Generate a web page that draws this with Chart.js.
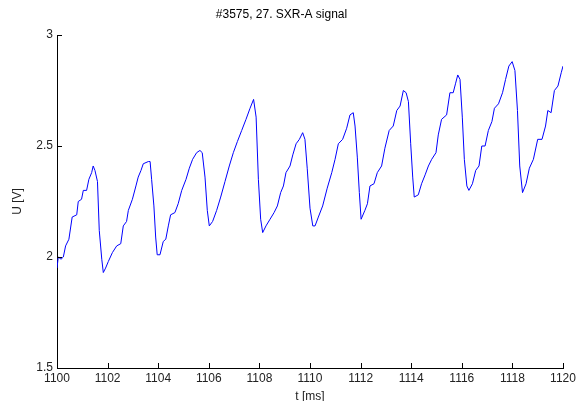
<!DOCTYPE html>
<html>
<head>
<meta charset="utf-8">
<script src="https://cdn.jsdelivr.net/npm/chart.js@4/dist/chart.umd.min.js"></script>
<style>
  html, body { margin: 0; padding: 0; background: #fff; }
  #wrap { width: 579px; height: 401px; }
</style>
</head>
<body>
<div id="wrap"><canvas id="sxrChart" width="579" height="401"></canvas></div>
<script>
// time axis [ms] and signal [V]
const time = [1100.0, 1100.05, 1100.16, 1100.25, 1100.34, 1100.47, 1100.6, 1100.78, 1100.84, 1100.97,
  1101.04, 1101.17, 1101.26, 1101.37, 1101.43, 1101.5, 1101.6, 1101.67, 1101.77, 1101.83,
  1101.92, 1102.03, 1102.19, 1102.36, 1102.52, 1102.62, 1102.75, 1102.82, 1102.98, 1103.12,
  1103.21, 1103.32, 1103.41, 1103.61, 1103.68, 1103.74, 1103.83, 1103.9, 1103.96, 1104.07,
  1104.2, 1104.3, 1104.4, 1104.49, 1104.66, 1104.79, 1104.93, 1105.1, 1105.23, 1105.36,
  1105.52, 1105.65, 1105.74, 1105.85, 1105.94, 1106.02, 1106.15, 1106.31, 1106.47, 1106.64,
  1106.81, 1106.97, 1107.13, 1107.3, 1107.47, 1107.63, 1107.77, 1107.87, 1107.96, 1108.05,
  1108.13, 1108.26, 1108.42, 1108.58, 1108.71, 1108.84, 1108.95, 1109.05, 1109.21, 1109.32,
  1109.45, 1109.58, 1109.71, 1109.8, 1109.89, 1110.0, 1110.11, 1110.2, 1110.33, 1110.5,
  1110.68, 1110.86, 1110.99, 1111.12, 1111.29, 1111.45, 1111.58, 1111.71, 1111.78, 1111.87,
  1111.95, 1112.02, 1112.17, 1112.27, 1112.37, 1112.53, 1112.66, 1112.83, 1112.96, 1113.13,
  1113.29, 1113.43, 1113.56, 1113.69, 1113.8, 1113.89, 1113.98, 1114.06, 1114.12, 1114.28,
  1114.41, 1114.55, 1114.68, 1114.81, 1114.98, 1115.07, 1115.2, 1115.4, 1115.53, 1115.66,
  1115.75, 1115.84, 1115.93, 1116.02, 1116.1, 1116.2, 1116.28, 1116.42, 1116.55, 1116.68,
  1116.79, 1116.92, 1117.05, 1117.19, 1117.29, 1117.45, 1117.61, 1117.73, 1117.86, 1117.99,
  1118.1, 1118.2, 1118.29, 1118.4, 1118.54, 1118.67, 1118.83, 1119.0, 1119.17, 1119.31,
  1119.4, 1119.53, 1119.66, 1119.8, 1119.93, 1120.0];

const signal = [1.95, 2.0, 1.99, 2.0, 2.05, 2.08, 2.18, 2.19, 2.25, 2.26,
  2.30, 2.30, 2.35, 2.38, 2.41, 2.39, 2.34, 2.12, 1.99, 1.93,
  1.95, 1.98, 2.02, 2.05, 2.06, 2.14, 2.16, 2.21, 2.26, 2.32,
  2.36, 2.39, 2.42, 2.43, 2.43, 2.35, 2.23, 2.09, 2.01, 2.01,
  2.07, 2.08, 2.14, 2.19, 2.20, 2.24, 2.30, 2.35, 2.40, 2.44,
  2.47, 2.48, 2.47, 2.36, 2.21, 2.14, 2.16, 2.21, 2.27, 2.34,
  2.41, 2.47, 2.52, 2.57, 2.62, 2.67, 2.71, 2.63, 2.35, 2.17,
  2.11, 2.14, 2.17, 2.20, 2.23, 2.29, 2.32, 2.38, 2.41, 2.46,
  2.51, 2.53, 2.56, 2.53, 2.40, 2.22, 2.14, 2.14, 2.18, 2.23,
  2.31, 2.38, 2.44, 2.51, 2.53, 2.58, 2.64, 2.65, 2.59, 2.45,
  2.29, 2.17, 2.21, 2.24, 2.32, 2.33, 2.38, 2.41, 2.49, 2.57,
  2.59, 2.66, 2.68, 2.75, 2.74, 2.70, 2.51, 2.36, 2.27, 2.28,
  2.33, 2.37, 2.41, 2.44, 2.47, 2.55, 2.62, 2.64, 2.74, 2.74,
  2.78, 2.82, 2.80, 2.63, 2.44, 2.32, 2.30, 2.33, 2.39, 2.41,
  2.50, 2.50, 2.57, 2.61, 2.67, 2.69, 2.74, 2.80, 2.86, 2.88,
  2.84, 2.66, 2.41, 2.29, 2.33, 2.40, 2.44, 2.53, 2.53, 2.59,
  2.66, 2.65, 2.75, 2.77, 2.83, 2.86];

const xTicks = [1100, 1102, 1104, 1106, 1108, 1110, 1112, 1114, 1116, 1118, 1120];
const yTicks = [1.5, 2, 2.5, 3];

const points = time.map((t, i) => ({ x: t, y: signal[i] }));
const font = { family: "Arial, 'Liberation Sans', sans-serif", size: 12 };

// matlab style ticks pointing into the axes
const innerTicks = {
  id: "innerTicks",
  afterDraw(chart) {
    const ctx = chart.ctx;
    const xs = chart.scales.x, ys = chart.scales.y;
    ctx.save();
    ctx.strokeStyle = "#000";
    ctx.lineWidth = 1;
    ctx.beginPath();
    xTicks.forEach((v) => {
      const px = Math.round(xs.getPixelForValue(v)) + 0.5;
      ctx.moveTo(px, ys.bottom);
      ctx.lineTo(px, ys.bottom - 5);
    });
    yTicks.forEach((v) => {
      const py = Math.round(ys.getPixelForValue(v)) + 0.5;
      ctx.moveTo(xs.left, py);
      ctx.lineTo(xs.left + 5, py);
    });
    ctx.stroke();
    ctx.restore();
  }
};

new Chart(document.getElementById("sxrChart"), {
  type: "scatter",
  data: {
    datasets: [{
      data: points,
      showLine: true,
      borderColor: "#0000ff",
      borderWidth: 1,
      pointRadius: 0,
      tension: 0
    }]
  },
  options: {
    responsive: false,
    animation: false,
    layout: { padding: { left: 0, right: 16, top: 0, bottom: -3 } },
    plugins: {
      legend: { display: false },
      tooltip: { enabled: false },
      title: {
        display: true,
        text: "#3575, 27. SXR-A signal",
        color: "#000",
        font: { family: font.family, size: 12, weight: "normal" },
        padding: { top: 7, bottom: 13.6 }
      }
    },
    scales: {
      x: {
        type: "linear",
        min: 1100,
        max: 1120,
        afterBuildTicks: (s) => { s.ticks = xTicks.map((v) => ({ value: v })); },
        afterFit: (s) => { s.height = 36; },
        ticks: { color: "#222", font: font, padding: 3, maxRotation: 0, callback: (v) => String(v) },
        grid: { drawOnChartArea: false, drawTicks: false },
        border: { display: true, color: "#000" },
        title: { display: true, text: "t [ms]", color: "#222", font: font, padding: { top: 0, bottom: 0 } }
      },
      y: {
        min: 1.5,
        max: 3,
        afterBuildTicks: (s) => { s.ticks = yTicks.map((v) => ({ value: v })); },
        afterFit: (s) => { s.width = 57; },
        ticks: { color: "#222", font: font, padding: 4, callback: (v) => String(v) },
        grid: { drawOnChartArea: false, drawTicks: false },
        border: { display: true, color: "#000" },
        title: { display: true, text: "U [V]", color: "#222", font: font, padding: { top: 10, bottom: 0 } }
      }
    }
  },
  plugins: [innerTicks]
});
</script>
</body>
</html>
